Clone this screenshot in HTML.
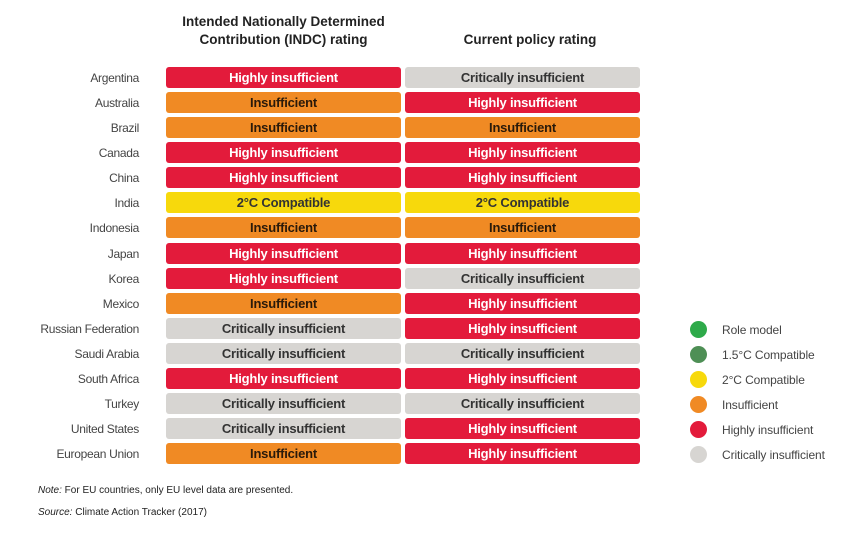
<!DOCTYPE html>
<html><head><style>
body{margin:0;width:850px;height:543px;background:#fff;position:relative;font-family:"Liberation Sans",sans-serif;overflow:hidden}
.h{position:absolute;font-weight:bold;font-size:13.5px;color:#222;text-align:center;line-height:18px}
.c{position:absolute;left:0;width:139px;text-align:right;font-size:12px;color:#444;height:21px;line-height:22px;letter-spacing:-0.3px}
.b{position:absolute;height:21px;width:235px;border-radius:3px;text-align:center;line-height:21px;font-size:13px;font-weight:bold;letter-spacing:-0.2px}
.H{background:#e31b3b;color:#fff}.I{background:#f08a24;color:#2a1a0a}.C{background:#d7d5d2;color:#333}.Y{background:#f7d90c;color:#333}
.d{position:absolute;left:690px;width:17px;height:17px;border-radius:50%}
.l{position:absolute;left:722px;font-size:12px;color:#444;line-height:18px;letter-spacing:-0.1px}
.n{position:absolute;left:38px;font-size:10px;color:#222}
</style></head><body>
<div class="h" style="left:166px;width:235px;top:13px">Intended Nationally Determined<br>Contribution (INDC) rating</div>
<div class="h" style="left:405px;width:250px;top:31px">Current policy rating</div>
<div class="c" style="top:67px">Argentina</div><div class="b H" style="left:166px;top:67px">Highly insufficient</div><div class="b C" style="left:405px;top:67px">Critically insufficient</div>
<div class="c" style="top:92px">Australia</div><div class="b I" style="left:166px;top:92px">Insufficient</div><div class="b H" style="left:405px;top:92px">Highly insufficient</div>
<div class="c" style="top:117px">Brazil</div><div class="b I" style="left:166px;top:117px">Insufficient</div><div class="b I" style="left:405px;top:117px">Insufficient</div>
<div class="c" style="top:142px">Canada</div><div class="b H" style="left:166px;top:142px">Highly insufficient</div><div class="b H" style="left:405px;top:142px">Highly insufficient</div>
<div class="c" style="top:167px">China</div><div class="b H" style="left:166px;top:167px">Highly insufficient</div><div class="b H" style="left:405px;top:167px">Highly insufficient</div>
<div class="c" style="top:192px">India</div><div class="b Y" style="left:166px;top:192px">2°C Compatible</div><div class="b Y" style="left:405px;top:192px">2°C Compatible</div>
<div class="c" style="top:217px">Indonesia</div><div class="b I" style="left:166px;top:217px">Insufficient</div><div class="b I" style="left:405px;top:217px">Insufficient</div>
<div class="c" style="top:243px">Japan</div><div class="b H" style="left:166px;top:243px">Highly insufficient</div><div class="b H" style="left:405px;top:243px">Highly insufficient</div>
<div class="c" style="top:268px">Korea</div><div class="b H" style="left:166px;top:268px">Highly insufficient</div><div class="b C" style="left:405px;top:268px">Critically insufficient</div>
<div class="c" style="top:293px">Mexico</div><div class="b I" style="left:166px;top:293px">Insufficient</div><div class="b H" style="left:405px;top:293px">Highly insufficient</div>
<div class="c" style="top:318px">Russian Federation</div><div class="b C" style="left:166px;top:318px">Critically insufficient</div><div class="b H" style="left:405px;top:318px">Highly insufficient</div>
<div class="c" style="top:343px">Saudi Arabia</div><div class="b C" style="left:166px;top:343px">Critically insufficient</div><div class="b C" style="left:405px;top:343px">Critically insufficient</div>
<div class="c" style="top:368px">South Africa</div><div class="b H" style="left:166px;top:368px">Highly insufficient</div><div class="b H" style="left:405px;top:368px">Highly insufficient</div>
<div class="c" style="top:393px">Turkey</div><div class="b C" style="left:166px;top:393px">Critically insufficient</div><div class="b C" style="left:405px;top:393px">Critically insufficient</div>
<div class="c" style="top:418px">United States</div><div class="b C" style="left:166px;top:418px">Critically insufficient</div><div class="b H" style="left:405px;top:418px">Highly insufficient</div>
<div class="c" style="top:443px">European Union</div><div class="b I" style="left:166px;top:443px">Insufficient</div><div class="b H" style="left:405px;top:443px">Highly insufficient</div>

<div class="d" style="top:321px;background:#2eaa4a"></div><div class="l" style="top:321px">Role model</div>
<div class="d" style="top:346px;background:#4e8f55"></div><div class="l" style="top:346px">1.5°C Compatible</div>
<div class="d" style="top:371px;background:#f7d90c"></div><div class="l" style="top:371px">2°C Compatible</div>
<div class="d" style="top:396px;background:#f08a24"></div><div class="l" style="top:396px">Insufficient</div>
<div class="d" style="top:421px;background:#e31b3b"></div><div class="l" style="top:421px">Highly insufficient</div>
<div class="d" style="top:446px;background:#d7d5d2"></div><div class="l" style="top:446px">Critically insufficient</div>

<div class="n" style="top:485px"><i>Note:</i> For EU countries, only EU level data are presented.</div>
<div class="n" style="top:507px"><i>Source:</i> Climate Action Tracker (2017)</div>
</body></html>
